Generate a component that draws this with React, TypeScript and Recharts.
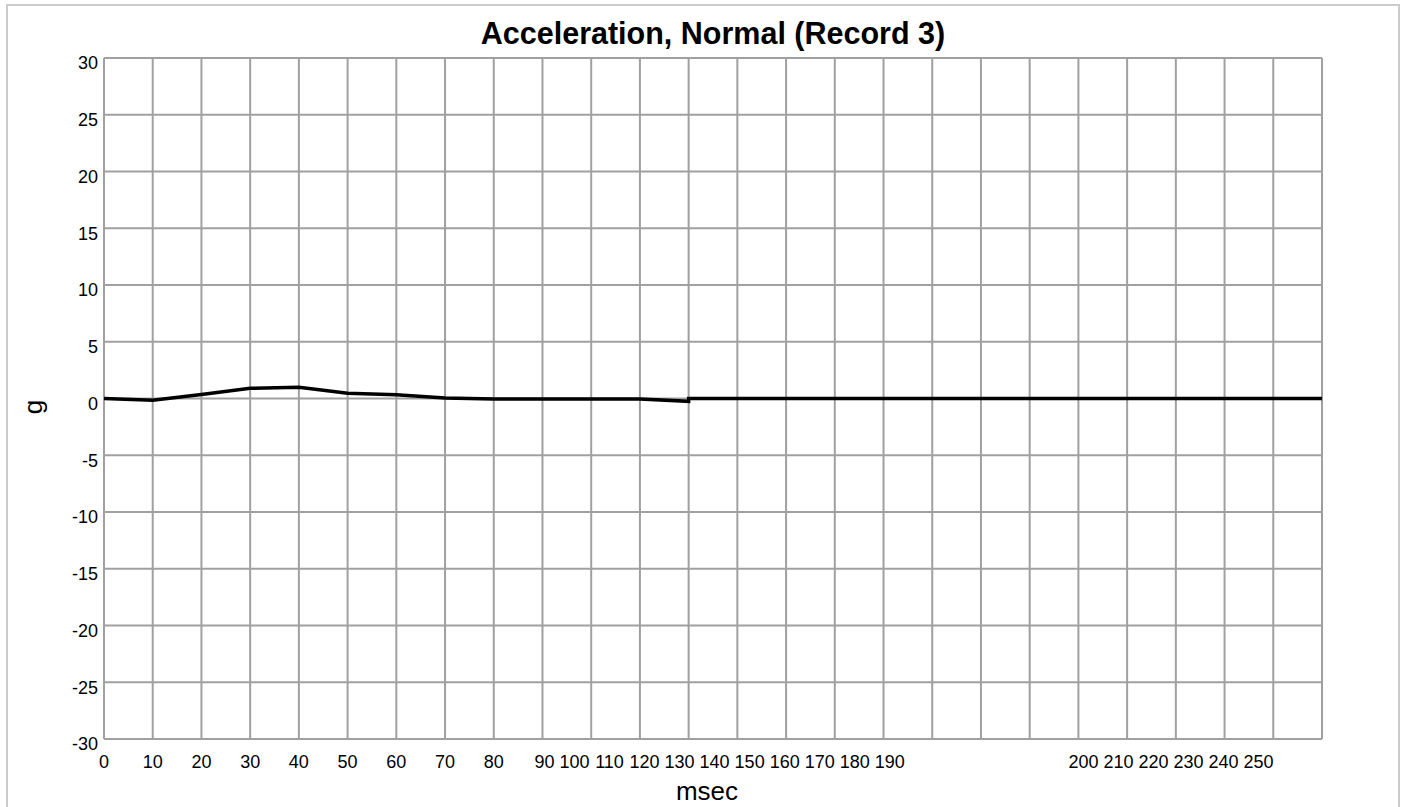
import { CartesianGrid, Line, LineChart, XAxis, YAxis } from "recharts";

// time axis (ms) and normal acceleration (g); 120 appears twice because the trace jumps there
const TIME_MS = [0, 10, 20, 30, 40, 50, 60, 70, 80, 90, 100, 110, 120, 120, 130, 140, 150, 160, 170, 180, 190, 200, 210, 220, 230, 240, 250];
const ACCEL_G = [0, -0.15, 0.35, 0.9, 1.0, 0.47, 0.33, 0.05, -0.05, -0.05, -0.05, -0.05, -0.25, 0, 0, 0, 0, 0, 0, 0, 0, 0, 0, 0, 0, 0, 0];

const X_TICKS = [0, 10, 20, 30, 40, 50, 60, 70, 80, 90, 100, 110, 120, 130, 140, 150, 160, 170, 180, 190, 200, 210, 220, 230, 240, 250];
const Y_TICKS = [-30, -25, -20, -15, -10, -5, 0, 5, 10, 15, 20, 25, 30];
// tick labels in these ranges are run together like a sentence instead of sitting on their gridlines
const PACKED_LABEL_GROUPS = [
  { from: 90, to: 190, nudge: 2 },
  { from: 200, to: 250, nudge: 5 },
];

const rows = TIME_MS.map((t, i) => ({ t, g: ACCEL_G[i] }));

const W = 1404;
const H = 807;
const margin = { top: 58, right: 82, bottom: 38, left: 44 };
const Y_AXIS_W = 60;
const X_AXIS_H = 30;
const PLOT_LEFT = margin.left + Y_AXIS_W;
const PLOT_W = W - PLOT_LEFT - margin.right;
const GRID_STEP = PLOT_W / (X_TICKS.length - 1);

const FONT = '"Liberation Sans", Arial, Helvetica, sans-serif';
const TICK_PX = 18;
const SPACE = 0.278 * TICK_PX;
const labelWidth = (v: number) => String(v).length * 0.556 * TICK_PX;

function packedX(v: number, x: number) {
  const group = PACKED_LABEL_GROUPS.find((g) => v >= g.from && v <= g.to);
  if (!group) return x;
  let cx = x - ((v - group.from) / 10) * GRID_STEP + group.nudge;
  for (let u = group.from; u < v; u += 10) cx += labelWidth(u) / 2 + SPACE + labelWidth(u + 10) / 2;
  return cx;
}

function XTick(props: any) {
  const { x, y, payload } = props;
  return (
    <text x={packedX(payload.value, x)} y={y} dy="0.71em" textAnchor="middle" fill="#000" fontSize={TICK_PX} fontFamily={FONT}>
      {payload.value}
    </text>
  );
}

function YTick(props: any) {
  const { x, y, payload } = props;
  return (
    <text x={x} y={y + 5} dy="0.355em" textAnchor="end" fill="#000" fontSize={TICK_PX} fontFamily={FONT}>
      {payload.value}
    </text>
  );
}

export default function App() {
  return (
    <div style={{ position: "absolute", left: 0, top: 0, width: W, height: H, overflow: "hidden", background: "#fff" }}>
      <div style={{ position: "absolute", left: 6, top: 4, width: 1394, height: 840, border: "2px solid #cccccc", boxSizing: "border-box" }} />
      <div style={{ position: "absolute", left: 0, top: 0 }}>
        <LineChart width={W} height={H} data={rows} margin={margin}>
          <CartesianGrid stroke="#a0a0a0" strokeWidth={2} />
          <XAxis
            dataKey="t"
            type="number"
            domain={[0, 250]}
            ticks={X_TICKS}
            interval={0}
            axisLine={false}
            tickLine={false}
            tickSize={8}
            tickMargin={8}
            height={X_AXIS_H}
            tick={(p: any) => <XTick {...p} />}
          />
          <YAxis
            type="number"
            domain={[-30, 30]}
            ticks={Y_TICKS}
            interval={0}
            axisLine={false}
            tickLine={false}
            tickSize={4}
            tickMargin={2}
            width={Y_AXIS_W}
            tick={(p: any) => <YTick {...p} />}
          />
          <Line type="linear" dataKey="g" stroke="#000" strokeWidth={3.5} dot={false} isAnimationActive={false} />
        </LineChart>
      </div>
      <svg width={W} height={H} style={{ position: "absolute", left: 0, top: 0, pointerEvents: "none" }}>
        <text x={713} y={44} textAnchor="middle" fontWeight="bold" fontSize={30.5} fontFamily={FONT} fill="#000">
          Acceleration, Normal (Record 3)
        </text>
        <text x={707} y={800} textAnchor="middle" fontSize={26} fontFamily={FONT} fill="#000">
          msec
        </text>
        <text transform="translate(42,407) rotate(-90)" textAnchor="middle" fontSize={26} fontFamily={FONT} fill="#000">
          g
        </text>
      </svg>
    </div>
  );
}
